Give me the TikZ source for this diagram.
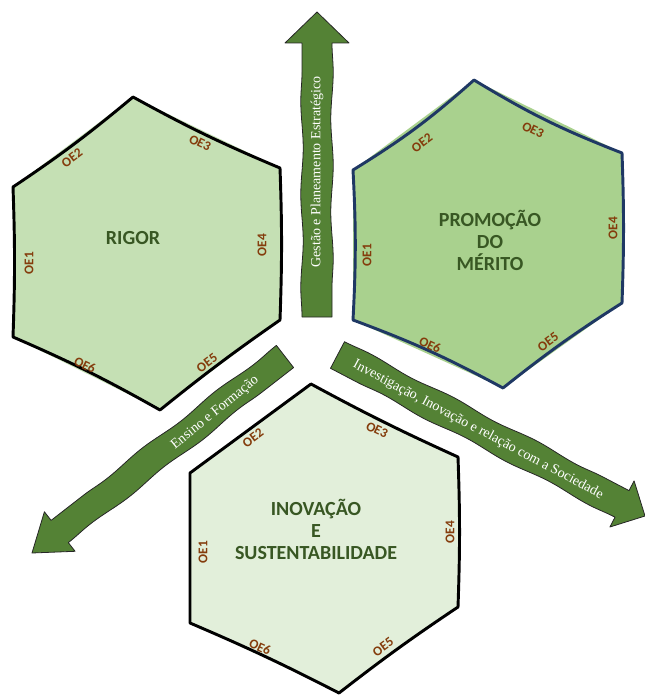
\documentclass[tikz,border=0pt]{standalone}
\usepackage{fontspec}
\newfontfamily\labelfont{Carlito}
\newfontfamily\arrowfont{Liberation Serif}
\usetikzlibrary{decorations.pathmorphing}

\definecolor{arrowgreen}{HTML}{548235}
\definecolor{rigorfill}{HTML}{C5E0B4}
\definecolor{meritofill}{HTML}{A9D18E}
\definecolor{inovfill}{HTML}{E2EFDA}
\definecolor{meritoline}{HTML}{1F3864}
\definecolor{oebrown}{HTML}{843C0C}
\definecolor{titlegreen}{HTML}{385723}

\begin{document}
\begin{tikzpicture}[x=0.75pt,y=0.75pt,yscale=-1,xscale=1,
    oe/.style={font=\labelfont\bfseries\fontsize{10}{12}\selectfont, text=oebrown, inner sep=0.75pt},
    title/.style={font=\labelfont\bfseries\fontsize{15}{16.5}\selectfont, text=titlegreen, align=center, inner sep=0.75pt},
    arrowtext/.style={font=\arrowfont\fontsize{10.5}{12}\selectfont, text=white, inner sep=0.75pt},
    blockarrow/.style={fill=arrowgreen, draw=black!85, line width=0.6pt, line join=round},
    wave/.style={decoration={snake, amplitude=0.9pt, segment length=70pt}},
    hexline/.style={line width=2.2pt, line join=round}]
    \useasboundingbox (0,0) rectangle (645,695);

    %Shape: Hexagon [RIGOR]
    \fill [rigorfill] (133,97) -- (280,168) -- (280,320) -- (160,410) -- (13,337) -- (13,187) -- cycle ;
    \draw [hexline] (13,187) to[bend left=3] (133,97) to[bend left=3] (280,168) to[bend right=2] (280,320) to[bend left=2] (160,410) to[bend left=3] (13,337) to[bend left=2] (13,187) -- cycle ;
    %Shape: Hexagon [PROMOCAO DO MERITO]
    \fill [meritofill] (474,80) -- (622,153) -- (622,303) -- (503,388) -- (353,320) -- (353,170) -- cycle ;
    \draw [hexline, meritoline] (353,170) to[bend left=5] (474,80) to[bend left=5] (622,153) to[bend right=2] (622,303) to[bend left=3] (503,388) to[bend left=4] (353,320) to[bend left=3] (353,170) -- cycle ;
    %Shape: Hexagon [INOVACAO E SUSTENTABILIDADE]
    \fill [inovfill] (311,384) -- (458,457) -- (458,607) -- (339,693) -- (190,623) -- (190,473) -- cycle ;
    \draw [hexline] (190,473) -- (311,384) to[bend left=2] (458,457) to[bend right=2] (458,607) to[bend left=2] (339,693) to[bend left=2] (190,623) -- (190,473) -- cycle ;

    %Block Arrow [up]
    \draw [blockarrow] (302,317) decorate[wave] {-- (302,43)} -- (285,43) -- (317,12) -- (349,43) -- (332,43) decorate[wave] {-- (332,317)} -- cycle ;
    %Block Arrow [down left]
    \draw [blockarrow] (276.4,345.4) decorate[wave] {-- (51.1,520.4)} -- (44.4,511.8) -- (32,553) -- (75.1,551.3) -- (68.3,542.6) decorate[wave] {-- (293.6,367.6)} -- cycle ;
    %Block Arrow [down right]
    \draw [blockarrow] (344.5,341.7) decorate[wave] {-- (629,490.6)} -- (634.1,480.9) -- (645,516) -- (609.9,527) -- (615,517.2) decorate[wave] {-- (330.5,368.3)} -- cycle ;

    % Text Node
    \node (gestao) at (317,172) [arrowtext, rotate=90] {Gestão e Planeamento Estratégico};
    \node (ensino) at (215,413) [arrowtext, rotate=39] {Ensino e Formação};
    \node (investigacao) at (478,430) [arrowtext, rotate=-28] {Investigação, Inovação e relação com a Sociedade};

    % Text Node
    \node (rigor) at (133,238) [title] {RIGOR};
    \node (rigor-oe1) at (29,263) [oe, rotate=90] {OE1};
    \node (rigor-oe2) at (72,158) [oe, rotate=37] {OE2};
    \node (rigor-oe3) at (200,143) [oe, rotate=-26] {OE3};
    \node (rigor-oe4) at (262,245) [oe, rotate=90] {OE4};
    \node (rigor-oe5) at (207,363) [oe, rotate=37] {OE5};
    \node (rigor-oe6) at (85,365) [oe, rotate=-26] {OE6};

    % Text Node
    \node (merito) at (490,240) [title] {PROMOÇÃO\\DO\\MÉRITO};
    \node (merito-oe1) at (367,255) [oe, rotate=90] {OE1};
    \node (merito-oe2) at (422,143) [oe, rotate=37] {OE2};
    \node (merito-oe3) at (533,130) [oe, rotate=-26] {OE3};
    \node (merito-oe4) at (613,228) [oe, rotate=90] {OE4};
    \node (merito-oe5) at (548,342) [oe, rotate=36] {OE5};
    \node (merito-oe6) at (430,345) [oe, rotate=-25] {OE6};

    % Text Node
    \node (inovacao) at (316,529) [title] {INOVAÇÃO\\E\\SUSTENTABILIDADE};
    \node (inovacao-oe1) at (203,552) [oe, rotate=90] {OE1};
    \node (inovacao-oe2) at (253,438) [oe, rotate=37] {OE2};
    \node (inovacao-oe3) at (377,430) [oe, rotate=-26] {OE3};
    \node (inovacao-oe4) at (450,532) [oe, rotate=90] {OE4};
    \node (inovacao-oe5) at (383,647) [oe, rotate=36] {OE5};
    \node (inovacao-oe6) at (260,647) [oe, rotate=-25] {OE6};

\end{tikzpicture}
\end{document}
